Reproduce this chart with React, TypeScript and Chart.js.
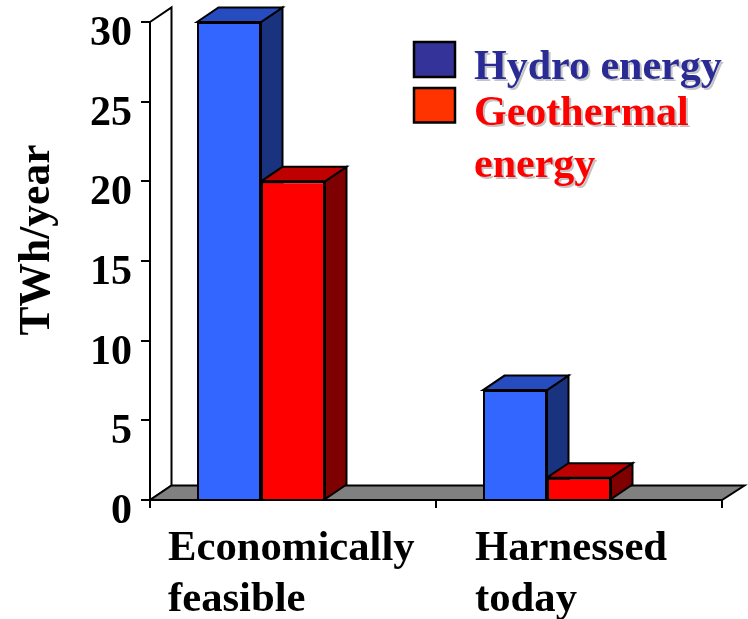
import React, { useEffect, useRef } from "react";
import { Chart, registerables } from "chart.js";

Chart.register(...registerables);

const categories = [["Economically", "feasible"], ["Harnessed", "today"]];
const categoryKeys = ["Economically feasible", "Harnessed today"];
const hydroValues = [30, 6.9];
const geothermalValues = [20, 1.4];
const spacerValues = [null, null];
const yTicks = [0, 5, 10, 15, 20, 25, 30];
const yTitle = "TWh/year";
const legendHydro = ["Hydro energy"];
const legendGeo = ["Geothermal", "energy"];

const FONT = '"Liberation Serif", "Times New Roman", serif';
const labelShift = [-125, -104];
const DX = 21.5;
const DY = 14.5;
const LINE = 2;
const faces = [
  { front: "#3366FF", top: "#264CBF", side: "#19337F" },
  { front: "#FF0000", top: "#BF0000", side: "#7F0000" },
];

function poly(ctx: CanvasRenderingContext2D, pts: number[][], fill: string | null) {
  ctx.beginPath();
  pts.forEach((p, i) => (i ? ctx.lineTo(p[0], p[1]) : ctx.moveTo(p[0], p[1])));
  ctx.closePath();
  if (fill) {
    ctx.fillStyle = fill;
    ctx.fill();
  }
  ctx.stroke();
}

const depthPlugin = {
  id: "depth3d",
  beforeDatasetsDraw(chart: any) {
    const { ctx, chartArea: a } = chart;
    ctx.save();
    ctx.strokeStyle = "#000";
    ctx.lineWidth = LINE;
    ctx.lineJoin = "miter";
    poly(ctx, [[a.left, a.top], [a.left + DX, a.top - DY], [a.left + DX, a.bottom - DY], [a.left, a.bottom]], "#FFFFFF");
    poly(ctx, [[a.left, a.bottom], [a.left + DX, a.bottom - DY], [a.right + DX + 1, a.bottom - DY], [a.right, a.bottom]], "#808080");
    [0, 1].forEach((d) => {
      chart.getDatasetMeta(d).data.forEach((bar: any) => {
        const l = bar.x - bar.width / 2;
        const r = bar.x + bar.width / 2;
        const t = bar.y;
        const b = bar.base;
        poly(ctx, [[r, t], [r + DX, t - DY], [r + DX, b - DY], [r, b]], faces[d].side);
        poly(ctx, [[l, t], [l + DX, t - DY], [r + DX, t - DY], [r, t]], faces[d].top);
      });
    });
    ctx.restore();
  },
  afterDraw(chart: any) {
    const { ctx } = chart;
    const xs = chart.scales.x;
    ctx.save();
    ctx.textAlign = "left";
    ctx.textBaseline = "alphabetic";
    ctx.font = `bold 42.7px ${FONT}`;
    ctx.fillStyle = "#000";
    categories.forEach((lines, i) => {
      const x = xs.getPixelForTick(i) + labelShift[i];
      lines.forEach((line, j) => ctx.fillText(line, x, 560 + j * 51));
    });
    ctx.save();
    ctx.translate(49, 240);
    ctx.rotate(-Math.PI / 2);
    ctx.textAlign = "center";
    ctx.font = `bold 43.5px ${FONT}`;
    ctx.fillText(yTitle, 0, 0);
    ctx.restore();
    ctx.strokeStyle = "#000";
    ctx.lineWidth = 2.5;
    ctx.fillStyle = "#333399";
    ctx.fillRect(414, 42, 41, 35);
    ctx.strokeRect(414, 42, 41, 35);
    ctx.fillStyle = "#FF3300";
    ctx.fillRect(414, 88, 41, 34.5);
    ctx.strokeRect(414, 88, 41, 34.5);
    ctx.shadowColor = "#C4C4C4";
    ctx.shadowOffsetX = 2;
    ctx.shadowOffsetY = 2;
    ctx.shadowBlur = 0;
    ctx.font = `bold 42px ${FONT}`;
    ctx.fillStyle = "#2B2B95";
    ctx.fillText(legendHydro[0], 474, 79);
    ctx.fillStyle = "#FF0000";
    legendGeo.forEach((line, j) => ctx.fillText(line, 474, 125 + j * 52));
    ctx.restore();
  },
};

export default function App() {
  const ref = useRef<HTMLCanvasElement>(null);
  useEffect(() => {
    const chart = new Chart(ref.current!, {
      type: "bar",
      data: {
        labels: categoryKeys,
        datasets: [
          { label: "Hydro energy", data: hydroValues, backgroundColor: faces[0].front },
          { label: "Geothermal energy", data: geothermalValues, backgroundColor: faces[1].front },
          { label: "", data: spacerValues as any, backgroundColor: "transparent" },
        ].map((d) => ({
          ...d,
          borderColor: "#000000",
          borderWidth: LINE,
          barPercentage: 1,
          categoryPercentage: 192 / 286,
        })),
      },
      options: {
        responsive: false,
        animation: false,
        layout: { padding: { top: 22, right: 26, left: 0, bottom: 0 } },
        plugins: { legend: { display: false }, tooltip: { enabled: false } },
        scales: {
          x: {
            afterFit: (s: any) => { s.height = 119; },
            border: { display: true, color: "#000", width: LINE },
            grid: { display: true, drawOnChartArea: false, drawTicks: true, tickLength: 8, color: "#000", lineWidth: LINE },
            ticks: { display: false },
          },
          y: {
            min: 0,
            max: 30,
            afterFit: (s: any) => { s.width = 150; s.paddingTop = 0; s.paddingBottom = 0; },
            afterBuildTicks: (s: any) => { s.ticks = yTicks.map((value) => ({ value })); },
            border: { display: true, color: "#000", width: LINE },
            grid: { display: true, drawOnChartArea: false, drawTicks: true, tickLength: 9, color: "#000", lineWidth: LINE },
            ticks: {
              color: "#000",
              padding: 9,
              labelOffset: 12,
              font: { family: FONT, size: 42, weight: "bold" },
            },
          },
        },
      },
      plugins: [depthPlugin],
    } as any);
    return () => chart.destroy();
  }, []);
  return (
    <canvas
      ref={ref}
      width={748}
      height={619}
      style={{ position: "absolute", left: 0, top: 0, display: "block" }}
    />
  );
}
